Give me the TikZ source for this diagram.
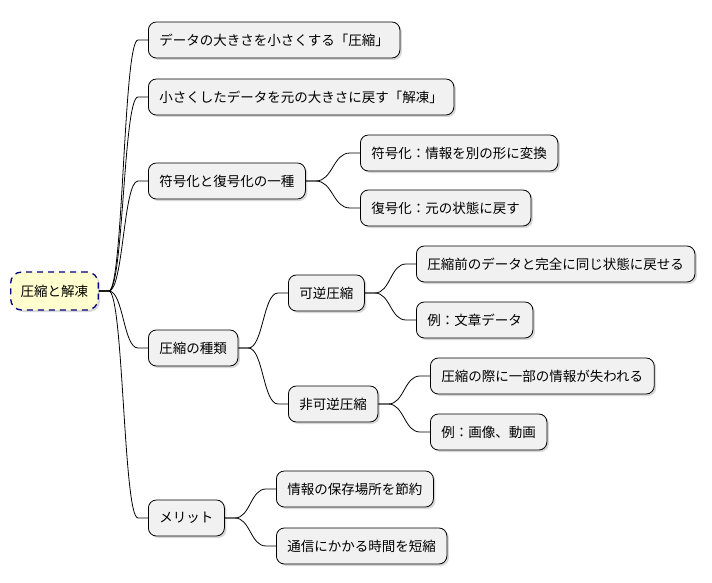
\documentclass[tikz,border=0pt]{standalone}
\usepackage{fontspec}
\setmainfont{Noto Sans CJK JP}
\usetikzlibrary{shadows,calc}
\definecolor{nodefill}{HTML}{F1F1F1}
\definecolor{rootfill}{HTML}{FEFECE}
\definecolor{rootline}{HTML}{000080}
\begin{document}
\begin{tikzpicture}[x=1pt,y=-1pt,
  box/.style={draw=black,line width=0.8pt,fill=nodefill,rounded corners=8pt,anchor=west,
    minimum height=36pt,inner xsep=11pt,font=\fontsize{13.5}{16}\selectfont,
    drop shadow={shadow xshift=2pt,shadow yshift=-2pt,fill=black!30}},
  root/.style={box,fill=rootfill,draw=rootline,dashed,line width=1.3pt,dash pattern=on 6pt off 5pt,rounded corners=11pt,minimum height=38pt,inner xsep=10pt},
  edge/.style={draw=black,line width=0.8pt}]
\useasboundingbox (0,0) rectangle (712,583);
\node[root] (r) at (10,291) {圧縮と解凍};
\node[box] (a) at (148,40) {データの大きさを小さくする「圧縮」};
\node[box] (b) at (148,97) {小さくしたデータを元の大きさに戻す「解凍」};
\node[box] (c) at (148,181) {符号化と復号化の一種};
\node[box] (d) at (148,348) {圧縮の種類};
\node[box] (e) at (148,518) {メリット};
\node[box] (c1) at (360,153) {符号化：情報を別の形に変換};
\node[box] (c2) at (360,208) {復号化：元の状態に戻す};
\node[box] (d1) at (288,293) {可逆圧縮};
\node[box] (d2) at (288,404) {非可逆圧縮};
\node[box] (e1) at (276,489) {情報の保存場所を節約};
\node[box] (e2) at (276,546) {通信にかかる時間を短縮};
\node[box] (d11) at (416,264) {圧縮前のデータと完全に同じ状態に戻せる};
\node[box] (d12) at (416,320) {例：文章データ};
\node[box] (d21) at (430,376) {圧縮の際に一部の情報が失われる};
\node[box] (d22) at (430,432) {例：画像、動画};
\foreach \pa/\ch in {r/a,r/b,r/c,r/d,r/e,c/c1,c/c2,d/d1,d/d2,e/e1,e/e2,d1/d11,d1/d12,d2/d21,d2/d22}{
  \draw[edge] let \p1=($(\pa.east)+(10,0)$), \p2=($(\ch.west)+(-10,0)$), \n1={0.5*\x1+0.5*\x2} in
    (\pa.east) -- (\p1) .. controls (\n1,\y1) and (\n1,\y2) .. (\p2) -- (\ch.west);
}
\end{tikzpicture}
\end{document}
